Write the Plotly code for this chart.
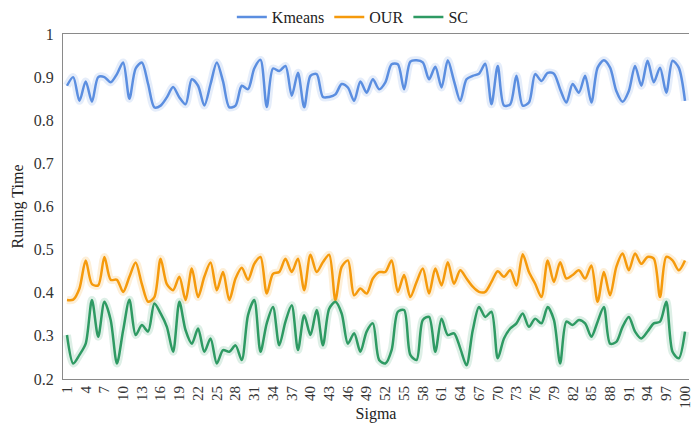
import plotly.graph_objects as go

sigma = list(range(1, 101))

kmeans = [0.88, 0.90, 0.845, 0.89, 0.843, 0.90, 0.90, 0.888, 0.907, 0.934,
          0.85, 0.92, 0.934, 0.884, 0.83, 0.834, 0.853, 0.877, 0.853, 0.837,
          0.895, 0.88, 0.834, 0.884, 0.934, 0.89, 0.83, 0.834, 0.88, 0.872,
          0.92, 0.94, 0.831, 0.92, 0.914, 0.926, 0.857, 0.91, 0.83, 0.903,
          0.907, 0.854, 0.854, 0.86, 0.884, 0.876, 0.845, 0.89, 0.864, 0.895,
          0.872, 0.888, 0.93, 0.93, 0.872, 0.936, 0.939, 0.934, 0.895, 0.924,
          0.876, 0.939, 0.891, 0.845, 0.895, 0.903, 0.908, 0.931, 0.837, 0.926,
          0.834, 0.837, 0.903, 0.834, 0.841, 0.907, 0.891, 0.91, 0.908, 0.872,
          0.841, 0.884, 0.864, 0.903, 0.841, 0.922, 0.939, 0.922, 0.868, 0.843,
          0.868, 0.926, 0.88, 0.938, 0.888, 0.922, 0.864, 0.938, 0.922, 0.845]

our = [0.383, 0.384, 0.41, 0.475, 0.42, 0.417, 0.483, 0.43, 0.43, 0.402,
       0.437, 0.47, 0.42, 0.379, 0.39, 0.479, 0.42, 0.406, 0.437, 0.383,
       0.456, 0.39, 0.437, 0.47, 0.406, 0.448, 0.383, 0.433, 0.458, 0.43,
       0.467, 0.483, 0.398, 0.444, 0.448, 0.479, 0.448, 0.479, 0.406, 0.488,
       0.448, 0.471, 0.488, 0.383, 0.46, 0.475, 0.394, 0.41, 0.398, 0.433,
       0.448, 0.448, 0.475, 0.402, 0.441, 0.39, 0.425, 0.456, 0.398, 0.456,
       0.417, 0.471, 0.421, 0.452, 0.433, 0.414, 0.402, 0.402, 0.425, 0.45,
       0.437, 0.452, 0.417, 0.489, 0.448, 0.421, 0.39, 0.475, 0.425, 0.471,
       0.433, 0.441, 0.452, 0.433, 0.463, 0.379, 0.448, 0.394, 0.46, 0.491,
       0.452, 0.491, 0.467, 0.483, 0.479, 0.39, 0.483, 0.475, 0.452, 0.475]

sc = [0.302, 0.236, 0.256, 0.282, 0.383, 0.298, 0.379, 0.337, 0.236, 0.313,
      0.384, 0.302, 0.325, 0.31, 0.375, 0.352, 0.321, 0.263, 0.379, 0.313,
      0.282, 0.317, 0.263, 0.294, 0.236, 0.267, 0.263, 0.278, 0.244, 0.348,
      0.383, 0.263, 0.329, 0.367, 0.278, 0.333, 0.371, 0.267, 0.348, 0.302,
      0.36, 0.278, 0.363, 0.379, 0.352, 0.282, 0.306, 0.263, 0.31, 0.329,
      0.244, 0.236, 0.267, 0.356, 0.36, 0.256, 0.244, 0.337, 0.344, 0.263,
      0.34, 0.302, 0.306, 0.271, 0.232, 0.313, 0.367, 0.344, 0.356, 0.248,
      0.294, 0.317, 0.329, 0.352, 0.321, 0.34, 0.329, 0.367, 0.337, 0.236,
      0.333, 0.325, 0.337, 0.329, 0.298, 0.333, 0.367, 0.282, 0.286, 0.321,
      0.344, 0.31, 0.294, 0.31, 0.329, 0.333, 0.379, 0.263, 0.248, 0.31]

series = [("Kmeans", kmeans, "#5B8EE0", "rgba(91,142,224,0.16)"),
          ("OUR", our, "#F59A0C", "rgba(245,154,12,0.16)"),
          ("SC", sc, "#2E9A63", "rgba(46,154,99,0.16)")]

tick_vals = list(range(1, 101, 3))
tick_text = [str(v) for v in tick_vals]
y_vals = [0.2, 0.3, 0.4, 0.5, 0.6, 0.7, 0.8, 0.9, 1.0]
y_text = ["0.2", "0.3", "0.4", "0.5", "0.6", "0.7", "0.8", "0.9", "1"]

FF = "Liberation Serif"

fig = go.Figure()
for name, vals, col, glow in series:
    fig.add_trace(go.Scatter(x=sigma, y=vals, mode="lines", showlegend=False,
                             hoverinfo="skip",
                             line=dict(color=glow, width=8, shape="spline", smoothing=0.8)))
for name, vals, col, glow in series:
    fig.add_trace(go.Scatter(x=sigma, y=vals, mode="lines", name=name,
                             line=dict(color=col, width=2.5, shape="spline", smoothing=0.8)))

fig.update_layout(
    width=693, height=428,
    margin=dict(l=63, r=0, t=32, b=49),
    paper_bgcolor="white", plot_bgcolor="white",
    font=dict(family=FF, size=16, color="#222"),
    legend=dict(orientation="h", x=0.463, xanchor="center", y=1.0, yanchor="bottom",
                font=dict(family=FF, size=16, color="#222"), itemwidth=30,
                bgcolor="rgba(0,0,0,0)"),
    xaxis=dict(range=[0.363, 100.64], tickmode="array", tickvals=tick_vals, ticktext=tick_text,
               tickangle=-90, showgrid=False, zeroline=False, showline=True,
               linecolor="#8a8a8a", linewidth=1.2, mirror=True,
               tickfont=dict(family=FF, size=15, color="#333"), ticks="",
               ticklabeloverflow="allow",
               title=dict(text="Sigma", font=dict(family=FF, size=16, color="#222"), standoff=0)),
    yaxis=dict(range=[0.2, 1.0], tickmode="array", tickvals=y_vals, ticktext=y_text,
               showgrid=False, zeroline=False, showline=True,
               linecolor="#8a8a8a", linewidth=1.2, mirror=False,
               tickfont=dict(family=FF, size=16, color="#333"), ticks="",
               ticklabelstandoff=5,
               title=dict(text="Runing Time", font=dict(family=FF, size=16, color="#222"), standoff=6)),
)

fig.write_html("out.html", config={"displayModeBar": False},
               post_script="document.body.style.margin='0';document.body.style.overflow='hidden';")
